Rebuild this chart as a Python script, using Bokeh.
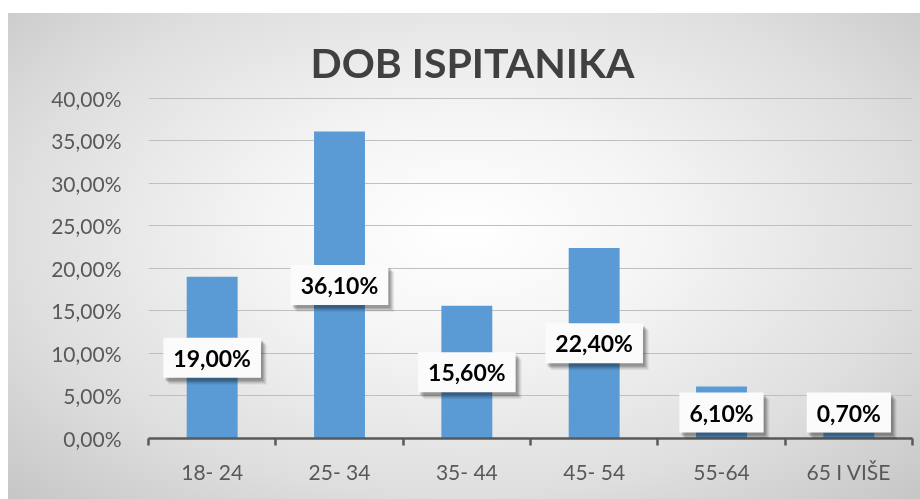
from bokeh.plotting import figure
from bokeh.models import FixedTicker, CustomJSTickFormatter, Label, ColumnDataSource
from bokeh.embed import file_html
from bokeh.resources import INLINE

# ---- data ----
title_text = "DOB ISPITANIKA"
categories = ["18- 24", "25- 34", "35- 44", "45- 54", "55-64", "65 I VIŠE"]
values = [19.0, 36.1, 15.6, 22.4, 6.1, 0.7]
value_labels = ["19,00%", "36,10%", "15,60%", "22,40%", "6,10%", "0,70%"]
y_ticks = [0, 5, 10, 15, 20, 25, 30, 35, 40]

n = len(categories)
x_centers = [i + 0.5 for i in range(n)]
boundaries = list(range(n + 1))
min_label_y = 3.05
label_y = [max(v / 2.0, min_label_y) for v in values]

FONT = "Lato"
AXIS_COLOR = "#595959"

src = ColumnDataSource(dict(x=x_centers, top=values))

p = figure(
    width=912, height=486,
    x_range=(0, n), y_range=(0, 40.2),
    output_backend="svg", toolbar_location=None,
    min_border_left=140, min_border_right=8,
    min_border_top=83, min_border_bottom=61,
    styles={
        "position": "fixed", "left": "8px", "top": "13px",
        "background": "radial-gradient(ellipse farthest-corner at 50% 45%, #ffffff 0%, #f5f5f5 30%, #dedede 70%, #c6c6c6 100%)",
    },
)
p.border_fill_alpha = 0
p.background_fill_alpha = 0
p.outline_line_color = None

# title
p.title.text = title_text
p.title.align = "left"
p.title.offset = 162
p.title.text_font = FONT
p.title.text_font_style = "bold"
p.title.text_font_size = "41px"
p.title.text_color = "#404040"
p.title.standoff = 20

# grid
p.xgrid.visible = False
p.ygrid.ticker = FixedTicker(ticks=y_ticks)
p.ygrid.grid_line_color = "#bfbfbf"
p.ygrid.grid_line_width = 1

# bars
p.vbar(x="x", top="top", bottom=0, width=0.4, source=src,
       fill_color="#5B9BD5", line_color=None)

# x axis
xa = p.xaxis[0]
xa.ticker = FixedTicker(ticks=x_centers, minor_ticks=boundaries)
xa.formatter = CustomJSTickFormatter(args=dict(cats=categories),
                                     code="return cats[Math.floor(tick)];")
xa.major_tick_line_color = None
xa.major_tick_out = 0
xa.major_tick_in = 0
xa.minor_tick_line_color = AXIS_COLOR
xa.minor_tick_line_width = 2.5
xa.minor_tick_out = 7
xa.minor_tick_in = 0
xa.axis_line_color = AXIS_COLOR
xa.axis_line_width = 2.5
xa.major_label_text_font = FONT
xa.major_label_text_font_size = "21px"
xa.major_label_text_color = AXIS_COLOR
xa.major_label_standoff = 13

# y axis
ya = p.yaxis[0]
ya.ticker = FixedTicker(ticks=y_ticks)
ya.formatter = CustomJSTickFormatter(code="return tick.toFixed(2).replace('.', ',') + '%';")
ya.axis_line_color = None
ya.major_tick_line_color = None
ya.minor_tick_line_color = None
ya.major_label_text_font = FONT
ya.major_label_text_font_size = "21px"
ya.major_label_text_color = AXIS_COLOR
ya.major_label_standoff = 21

# data labels with soft shadow
pad = dict(left=10, right=10, top=6, bottom=6)
shadow_layers = [(6, -7, 0.05), (5, -6, 0.07), (4, -5, 0.09), (3, -4, 0.11), (2, -3, 0.13)]
for xc, ly, txt in zip(x_centers, label_y, value_labels):
    for dx, dy, a in shadow_layers:
        p.add_layout(Label(x=xc, y=ly, text=txt, x_offset=dx, y_offset=dy,
                           text_align="center", text_baseline="middle",
                           text_font=FONT, text_font_style="bold", text_font_size="23px",
                           text_color="black", text_alpha=a,
                           background_fill_color="black",
                           background_fill_alpha=a, padding=pad))
    p.add_layout(Label(x=xc, y=ly, text=txt,
                       text_align="center", text_baseline="middle",
                       text_font=FONT, text_font_style="bold", text_font_size="23px",
                       text_color="black", background_fill_color="#fbfbfb",
                       background_fill_alpha=1.0, padding=pad))

open("out.html", "w").write(file_html(p, INLINE, title="DOB ISPITANIKA"))
